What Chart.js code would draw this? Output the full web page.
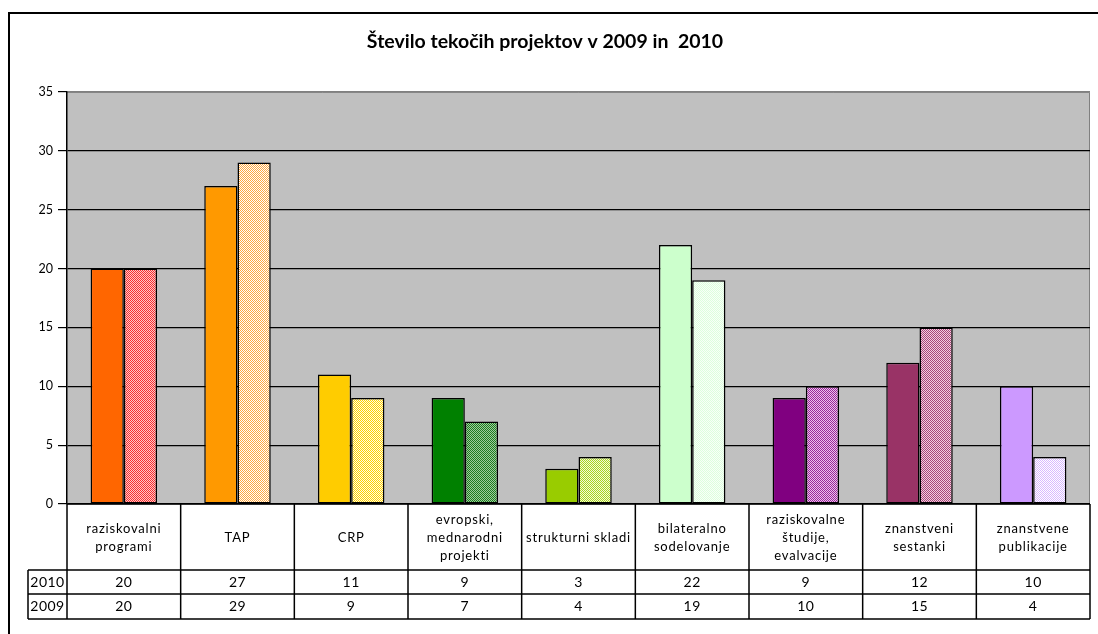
<!DOCTYPE html>
<html>
<head>
<meta charset="utf-8">
<script src="https://cdn.jsdelivr.net/npm/chart.js@4/dist/chart.umd.min.js"></script>
<style>
  html, body { margin: 0; padding: 0; background: #fff; }
  #wrap { position: relative; width: 1098px; height: 634px; }
</style>
</head>
<body>
<div id="wrap"><canvas id="cv"></canvas></div>
<script>
// podatki
const categories = [
  ['raziskovalni', 'programi'], ['TAP'], ['CRP'], ['evropski,', 'mednarodni', 'projekti'],
  ['strukturni skladi'], ['bilateralno', 'sodelovanje'], ['raziskovalne', 'študije,', 'evalvacije'],
  ['znanstveni', 'sestanki'], ['znanstvene', 'publikacije']
];
const seriesNames = ['2010', '2009'];
const values2010 = [20, 27, 11, 9, 3, 22, 9, 12, 10];
const values2009 = [20, 29, 9, 7, 4, 19, 10, 15, 4];
const yTicks = [0, 5, 10, 15, 20, 25, 30, 35];

const colors2010 = ['#FF6600', '#FF9900', '#FFCC00', '#008000', '#99CC00', '#CCFFCC', '#800080', '#993366', '#CC99FF'];
const colors2009 = [
  ['#F83030', '#FFC8C8'], ['#FFA840', '#FFFFFF'], ['#FFD200', '#FFFBE8'],
  ['#1E7A1E', '#9CCC9C'], ['#A8D420', '#F4FAD8'], ['#DDFFDD', '#F8FFF8'],
  ['#9A2A9A', '#EEC0EE'], ['#A84878', '#F2CEE0'], ['#D8B8FF', '#FFFFFF']
];

const FONT = 'Lato, "Open Sans", sans-serif';

function dots(fg, bg) {
  const c = document.createElement('canvas'); c.width = 2; c.height = 2;
  const g = c.getContext('2d');
  g.fillStyle = bg; g.fillRect(0, 0, 2, 2);
  g.fillStyle = fg; g.fillRect(0, 0, 1, 1); g.fillRect(1, 1, 1, 1);
  return g.createPattern(c, 'repeat');
}

const sheet = {
  id: 'sheet',
  beforeDraw(chart) {
    const ctx = chart.ctx, a = chart.chartArea;
    ctx.save();
    ctx.fillStyle = '#fff'; ctx.fillRect(0, 0, chart.width, chart.height);
    // okvir
    ctx.strokeStyle = '#000'; ctx.lineWidth = 2;
    ctx.beginPath(); ctx.moveTo(9, chart.height); ctx.lineTo(9, 13); ctx.lineTo(chart.width, 13); ctx.stroke();
    // ozadje grafa
    ctx.fillStyle = '#C0C0C0'; ctx.fillRect(a.left, a.top, a.right - a.left, a.bottom - a.top);
    ctx.strokeStyle = '#808080'; ctx.lineWidth = 1;
    ctx.beginPath(); ctx.moveTo(a.left, a.top + 0.5); ctx.lineTo(a.right - 0.5, a.top + 0.5); ctx.lineTo(a.right - 0.5, a.bottom); ctx.stroke();
    ctx.restore();
  },
  afterDraw(chart) {
    const ctx = chart.ctx, a = chart.chartArea;
    const n = categories.length, w = (a.right - a.left) / n;
    const r0 = a.bottom, r1 = r0 + 66, r2 = r1 + 24, r3 = r2 + 25, lx = 28;
    ctx.save();
    ctx.strokeStyle = '#000'; ctx.lineWidth = 1.5;
    ctx.beginPath();
    ctx.moveTo(a.left, r0); ctx.lineTo(a.right, r0);
    [r1, r2, r3].forEach(y => { ctx.moveTo(lx, y); ctx.lineTo(a.right, y); });
    for (let i = 0; i <= n; i++) { const x = a.left + i * w; ctx.moveTo(x, r0); ctx.lineTo(x, r3); }
    ctx.moveTo(lx, r1); ctx.lineTo(lx, r3);
    ctx.stroke();

    ctx.fillStyle = '#000'; ctx.textAlign = 'center'; ctx.textBaseline = 'middle';
    ctx.font = '13px ' + FONT; ctx.letterSpacing = '0.8px';
    categories.forEach((lines, i) => {
      const cx = a.left + (i + 0.5) * w, lh = 18;
      const y0 = (r0 + r1) / 2 + 1 - (lines.length - 1) * lh / 2;
      lines.forEach((t, j) => ctx.fillText(t, cx, y0 + j * lh));
    });
    ctx.font = '14px ' + FONT; ctx.letterSpacing = '0.5px';
    [[values2010, r1, r2], [values2009, r2, r3]].forEach(([vals, ya, yb], k) => {
      ctx.fillText(seriesNames[k], (lx + a.left) / 2, (ya + yb) / 2);
      vals.forEach((v, i) => ctx.fillText(String(v), a.left + (i + 0.5) * w, (ya + yb) / 2));
    });
    ctx.restore();
  }
};

new Chart(document.getElementById('cv'), {
  type: 'bar',
  data: {
    labels: categories.map(c => c.join(' ')),
    datasets: [
      { label: seriesNames[0], data: values2010, backgroundColor: colors2010, borderColor: '#000', borderWidth: 1.5, borderSkipped: false },
      { label: seriesNames[1], data: values2009, backgroundColor: colors2009.map(c => dots(c[0], c[1])), borderColor: '#000', borderWidth: 1.5, borderSkipped: false },
    ],
  },
  options: {
    responsive: true, maintainAspectRatio: false, animation: false,
    datasets: { bar: { barPercentage: 1, categoryPercentage: 0.585 } },
    layout: { padding: { left: 0, right: 8, top: 0, bottom: 15 } },
    plugins: {
      legend: { display: false }, tooltip: { enabled: false },
      title: { display: true, text: 'Število tekočih projektov v 2009 in  2010', color: '#000', font: { family: FONT, size: 19.5, weight: 'bold' }, padding: { top: 30, bottom: 38.5 } },
    },
    scales: {
      x: { ticks: { display: false }, grid: { display: false }, border: { display: false }, afterFit: s => { s.height = 115; } },
      y: {
        min: 0, max: 35, afterFit: s => { s.width = 67; },
        afterBuildTicks: s => { s.ticks = yTicks.map(v => ({ value: v })); },
        ticks: { color: '#000', padding: 5, font: { family: FONT, size: 12.5 } },
        grid: { color: c => c.tick && c.tick.value === 35 ? '#808080' : '#000', lineWidth: 1.2, tickLength: 9, tickColor: '#000' },
        border: { color: '#000', width: 1.5 },
      },
    },
  },
  plugins: [sheet],
});
</script>
</body>
</html>
